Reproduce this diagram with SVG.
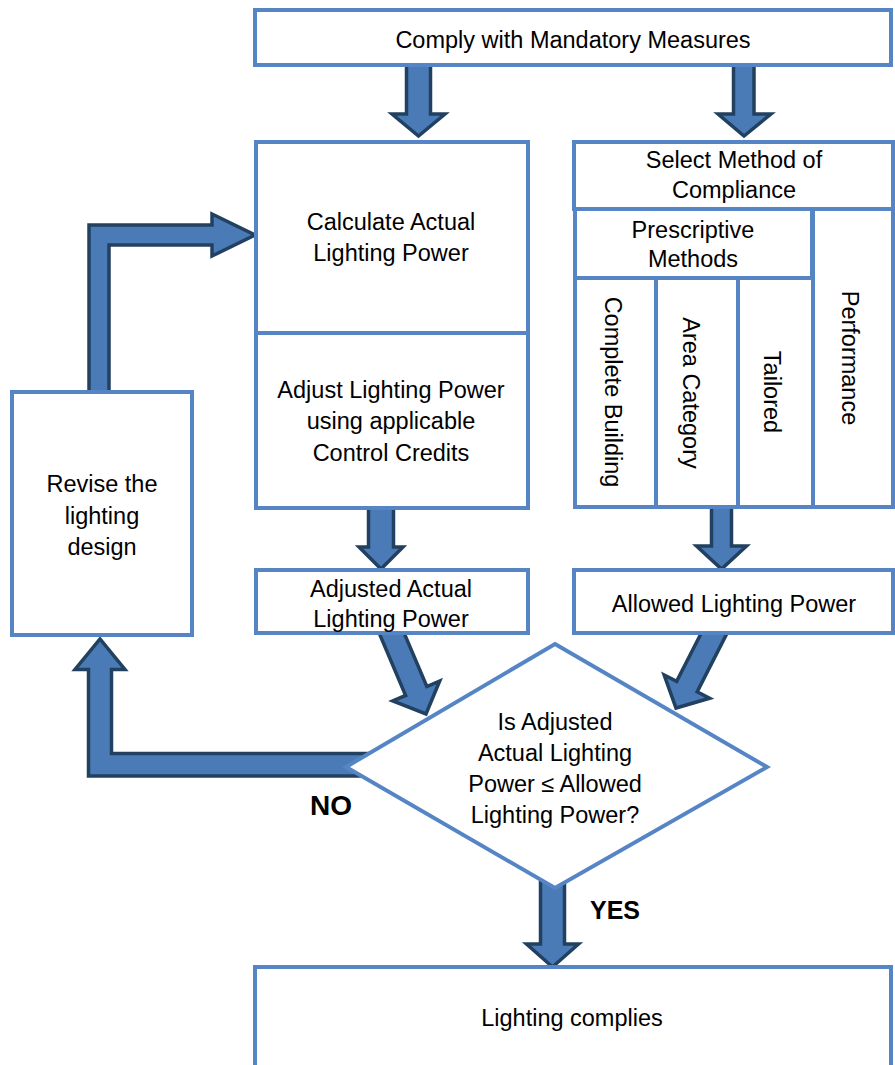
<svg xmlns="http://www.w3.org/2000/svg" width="895" height="1065" viewBox="0 0 895 1065">
<style>
.box{fill:#ffffff;stroke:#5585c5;stroke-width:4}
.arr{fill:#4a7bb7;stroke:#22405f;stroke-width:3.5;stroke-linejoin:miter}
.t{font-family:"Liberation Sans",Arial,sans-serif;font-size:23.5px;fill:#000000;text-anchor:middle}
.b{font-family:"Liberation Sans",Arial,sans-serif;font-size:25px;font-weight:bold;fill:#000000;text-anchor:middle}
.no{font-size:28px}
</style>
<rect width="895" height="1065" fill="#ffffff"/>
<g id="connectors">
<path class="arr" d="M406.5,60 L430.5,60 L430.5,114 L445,114 L418.5,136 L392,114 L406.5,114 Z"/>
<path class="arr" d="M733.5,60 L754,60 L754,114 L771,114 L744,136 L718,114 L733.5,114 Z"/>
<path class="arr" d="M89,395 L89,225 L212,225 L212,214 L255,235 L212,256 L212,245 L109,245 L109,395 Z"/>
<path class="arr" d="M368.5,500 L393.5,500 L393.5,547 L403,547 L381,569 L359,547 L368.5,547 Z"/>
<path class="arr" d="M711.5,500 L731.5,500 L731.5,546 L746.5,546 L721.5,569 L696.5,546 L711.5,546 Z"/>
<path class="arr" transform="translate(426,714) rotate(-23)" d="M-11.5,-110 L11.5,-110 L11.5,-25 L25.5,-25 L0,0 L-25.5,-25 L-11.5,-25 Z"/>
<path class="arr" transform="translate(676,708) rotate(27)" d="M-11.5,-110 L11.5,-110 L11.5,-24 L25.5,-24 L0,0 L-25.5,-24 L-11.5,-24 Z"/>
<path class="arr" d="M420,753.5 L111.5,753.5 L111.5,669.5 L125,669.5 L100,639 L75,669.5 L88.5,669.5 L88.5,776 L420,776 Z"/>
<path class="arr" d="M540.5,860 L564.5,860 L564.5,944 L578.5,944 L552.5,967 L526.5,944 L540.5,944 Z"/>
</g>
<g id="mandatory">
<rect class="box" x="255" y="10" width="636" height="55"/>
<text class="t" x="573" y="48">Comply with Mandatory Measures</text>
</g>
<g id="calculate">
<rect class="box" x="256" y="142" width="272" height="191"/>
<text class="t" x="391" y="230">Calculate Actual</text>
<text class="t" x="391" y="261">Lighting Power</text>
</g>
<g id="adjust">
<rect class="box" x="256" y="333" width="272" height="175"/>
<text class="t" x="391" y="398">Adjust Lighting Power</text>
<text class="t" x="391" y="429">using applicable</text>
<text class="t" x="391" y="461">Control Credits</text>
</g>
<g id="adjusted">
<rect class="box" x="256" y="570" width="272" height="63"/>
<text class="t" x="391" y="597">Adjusted Actual</text>
<text class="t" x="391" y="627">Lighting Power</text>
</g>
<g id="select">
<rect class="box" x="574" y="142" width="319" height="67"/>
<text class="t" x="734" y="168">Select Method of</text>
<text class="t" x="734" y="198">Compliance</text>
</g>
<g id="prescriptive">
<rect class="box" x="575" y="209" width="237" height="69"/>
<text class="t" x="693" y="238">Prescriptive</text>
<text class="t" x="693" y="267">Methods</text>
</g>
<g id="complete-building">
<rect class="box" x="575" y="278" width="81" height="229"/>
<text class="t" transform="translate(613,392) rotate(90)" y="8">Complete Building</text>
</g>
<g id="area-category">
<rect class="box" x="656" y="278" width="82" height="229"/>
<text class="t" transform="translate(691,393) rotate(90)" y="8">Area Category</text>
</g>
<g id="tailored">
<rect class="box" x="738" y="278" width="75" height="229"/>
<text class="t" transform="translate(772,392) rotate(90)" y="8">Tailored</text>
</g>
<g id="performance">
<rect class="box" x="813" y="209" width="80" height="298"/>
<text class="t" transform="translate(850,358) rotate(90)" y="8">Performance</text>
</g>
<g id="allowed">
<rect class="box" x="574" y="570" width="319" height="63"/>
<text class="t" x="734" y="612">Allowed Lighting Power</text>
</g>
<g id="revise">
<rect class="box" x="12" y="392" width="180" height="243"/>
<text class="t" x="102" y="492">Revise the</text>
<text class="t" x="102" y="524">lighting</text>
<text class="t" x="102" y="555">design</text>
</g>
<g id="decision">
<polygon class="box" points="555,644 767,767 555,888 346,767"/>
<text class="t" x="555" y="730">Is Adjusted</text>
<text class="t" x="555" y="761">Actual Lighting</text>
<text class="t" x="555" y="792">Power ≤ Allowed</text>
<text class="t" x="555" y="823">Lighting Power?</text>
</g>
<g id="labels">
<text class="b no" x="331" y="815">NO</text>
<text class="b" x="615" y="919">YES</text>
</g>
<g id="complies">
<rect class="box" x="255" y="967" width="636" height="120"/>
<text class="t" x="572" y="1026">Lighting complies</text>
</g>
</svg>
